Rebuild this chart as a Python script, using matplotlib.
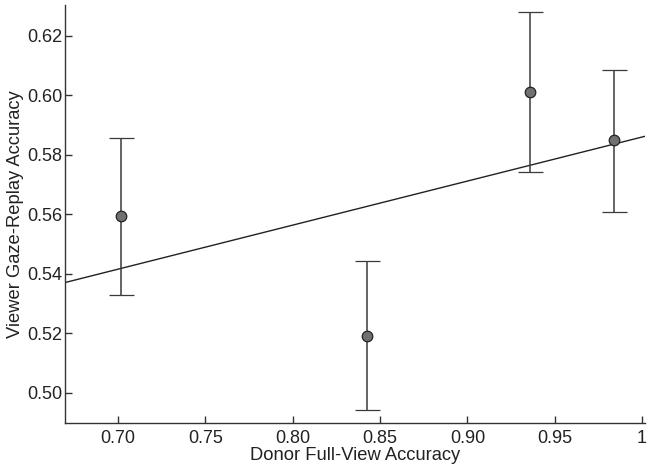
import numpy as np
import matplotlib
matplotlib.use('Agg')
import matplotlib.pyplot as plt

# Data
donor_acc = [0.7017, 0.8428, 0.9360, 0.9839]
viewer_acc = [0.5593, 0.5192, 0.6011, 0.5848]
err_low = [0.0264, 0.0250, 0.0269, 0.0241]
err_high = [0.0264, 0.0250, 0.0270, 0.0238]

x_ticks = [0.70, 0.75, 0.80, 0.85, 0.90, 0.95, 1.0]
x_tick_labels = ['0.70', '0.75', '0.80', '0.85', '0.90', '0.95', '1']
y_ticks = [0.50, 0.52, 0.54, 0.56, 0.58, 0.60, 0.62]
y_tick_labels = ['0.50', '0.52', '0.54', '0.56', '0.58', '0.60', '0.62']

plt.rcParams['font.family'] = ['Liberation Sans', 'DejaVu Sans']

fig = plt.figure(figsize=(6.51, 4.69), dpi=100)
ax = fig.add_axes([0.0998, 0.0981, 0.8910, 0.8912])

# Least-squares fit line across the full x range
slope, intercept = np.polyfit(donor_acc, viewer_acc, 1)
xlim = (0.6696, 1.0017)
xs = np.array(xlim)
ax.plot(xs, slope * xs + intercept, color='#222222', lw=1.0, zorder=2)

ax.errorbar(donor_acc, viewer_acc, yerr=[err_low, err_high], fmt='o',
            color='#3a3a3a', ecolor='#3a3a3a', elinewidth=1.1, capsize=9,
            capthick=1.1, markersize=7.6, markerfacecolor='#707070',
            markeredgecolor='#222222', markeredgewidth=0.9, zorder=3)

ax.set_xlim(*xlim)
ax.set_ylim(0.4898, 0.6303)
ax.set_xticks(x_ticks)
ax.set_xticklabels(x_tick_labels)
ax.set_yticks(y_ticks)
ax.set_yticklabels(y_tick_labels)

ax.spines['top'].set_visible(False)
ax.spines['right'].set_visible(False)
for s in ('left', 'bottom'):
    ax.spines[s].set_color('#333333')
    ax.spines[s].set_linewidth(1.0)
ax.tick_params(direction='in', length=5, width=1.0, color='#333333',
               labelsize=13, labelcolor='#222222')
ax.tick_params(axis='x', pad=5)
ax.tick_params(axis='y', pad=2)

ax.set_xlabel('Donor Full-View Accuracy', fontsize=13.2, color='#222222', labelpad=0)
ax.set_ylabel('Viewer Gaze-Replay Accuracy', fontsize=13.2, color='#222222', labelpad=2)

fig.savefig('out.png', dpi=100)
